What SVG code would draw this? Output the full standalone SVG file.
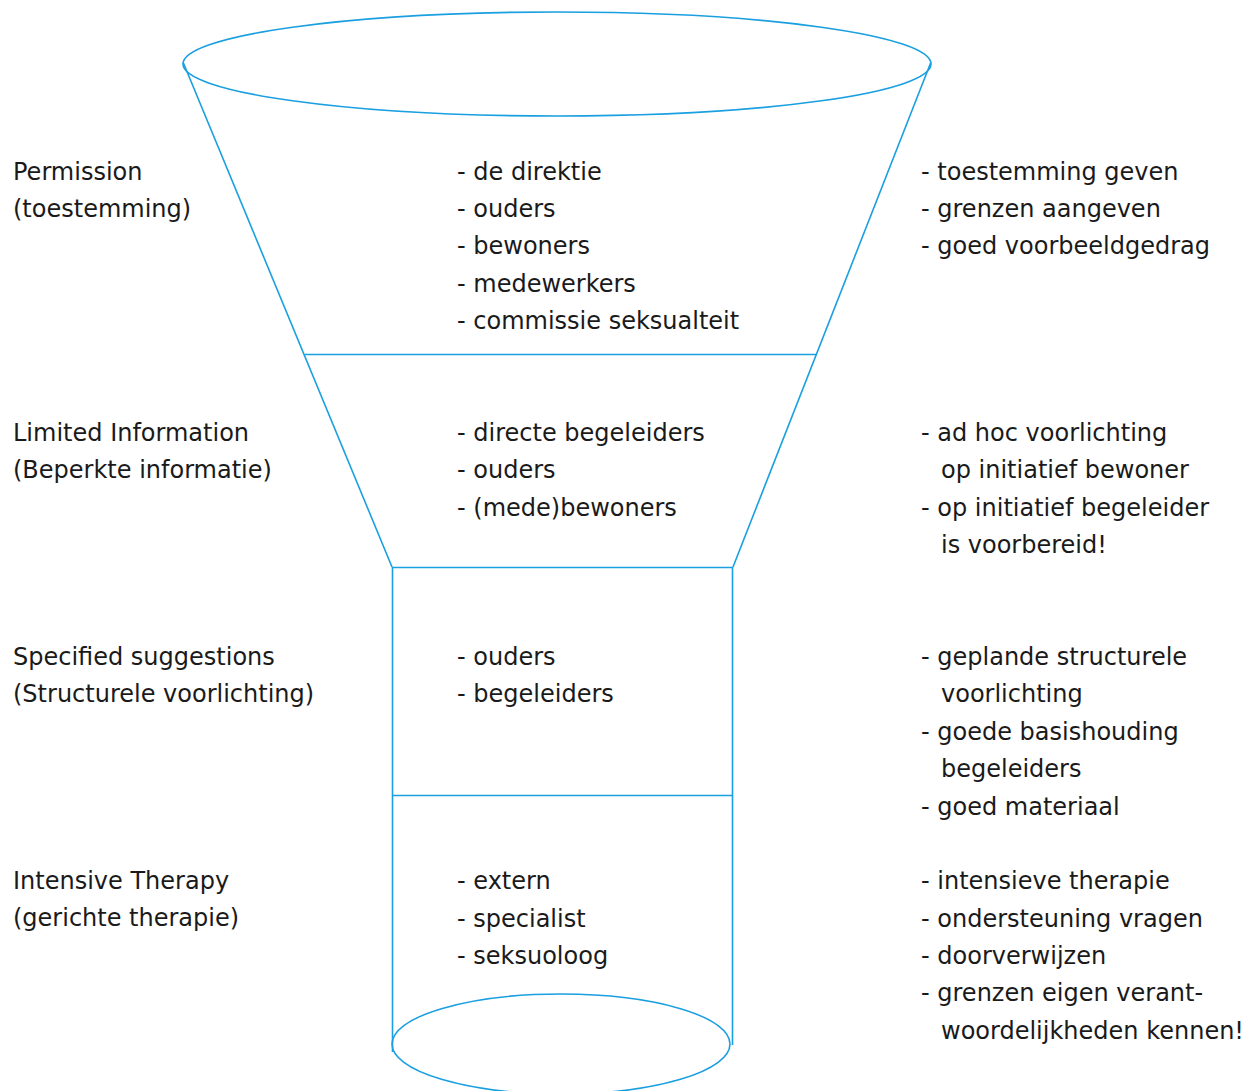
<svg xmlns="http://www.w3.org/2000/svg" width="1254" height="1091" viewBox="0 0 1254 1091">
<style>
.s{fill:none;stroke:#1a9fe0;stroke-width:1.6}
text{font-family:"DejaVu Sans",sans-serif;font-size:24px;fill:#1a1a1a}
</style>
<rect width="1254" height="1091" fill="#fff"/>
<g id="funnel">
<ellipse class="s" cx="557" cy="64" rx="374" ry="52"/>
<line class="s" x1="183" y1="62" x2="392" y2="567"/>
<line class="s" x1="931" y1="62" x2="733" y2="567"/>
<line class="s" x1="305" y1="354.5" x2="817" y2="354.5"/>
<line class="s" x1="392" y1="567.5" x2="733" y2="567.5"/>
<line class="s" x1="392.5" y1="567" x2="392.5" y2="1052"/>
<line class="s" x1="732.5" y1="567" x2="732.5" y2="1045"/>
<line class="s" x1="392" y1="795.5" x2="733" y2="795.5"/>
<ellipse class="s" cx="561" cy="1044" rx="169" ry="50"/>
</g>
<g id="level1">
<text x="13" y="180">Permission</text>
<text x="13" y="217">(toestemming)</text>
<text x="457" y="180">- de direktie</text>
<text x="457" y="217">- ouders</text>
<text x="457" y="254">- bewoners</text>
<text x="457" y="292">- medewerkers</text>
<text x="457" y="329">- commissie seksualteit</text>
<text x="921" y="180">- toestemming geven</text>
<text x="921" y="217">- grenzen aangeven</text>
<text x="921" y="254">- goed voorbeeldgedrag</text>
</g>
<g id="level2">
<text x="13" y="441">Limited Information</text>
<text x="13" y="478">(Beperkte informatie)</text>
<text x="457" y="441">- directe begeleiders</text>
<text x="457" y="478">- ouders</text>
<text x="457" y="516">- (mede)bewoners</text>
<text x="921" y="441">- ad hoc voorlichting</text>
<text x="941" y="478">op initiatief bewoner</text>
<text x="921" y="516">- op initiatief begeleider</text>
<text x="941" y="553">is voorbereid!</text>
</g>
<g id="level3">
<text x="13" y="665">Specified suggestions</text>
<text x="13" y="702">(Structurele voorlichting)</text>
<text x="457" y="665">- ouders</text>
<text x="457" y="702">- begeleiders</text>
<text x="921" y="665">- geplande structurele</text>
<text x="941" y="702">voorlichting</text>
<text x="921" y="740">- goede basishouding</text>
<text x="941" y="777">begeleiders</text>
<text x="921" y="815">- goed materiaal</text>
</g>
<g id="level4">
<text x="13" y="889">Intensive Therapy</text>
<text x="13" y="926">(gerichte therapie)</text>
<text x="457" y="889">- extern</text>
<text x="457" y="927">- specialist</text>
<text x="457" y="964">- seksuoloog</text>
<text x="921" y="889">- intensieve therapie</text>
<text x="921" y="927">- ondersteuning vragen</text>
<text x="921" y="964">- doorverwijzen</text>
<text x="921" y="1001">- grenzen eigen verant-</text>
<text x="941" y="1039">woordelijkheden kennen!</text>
</g>
</svg>
